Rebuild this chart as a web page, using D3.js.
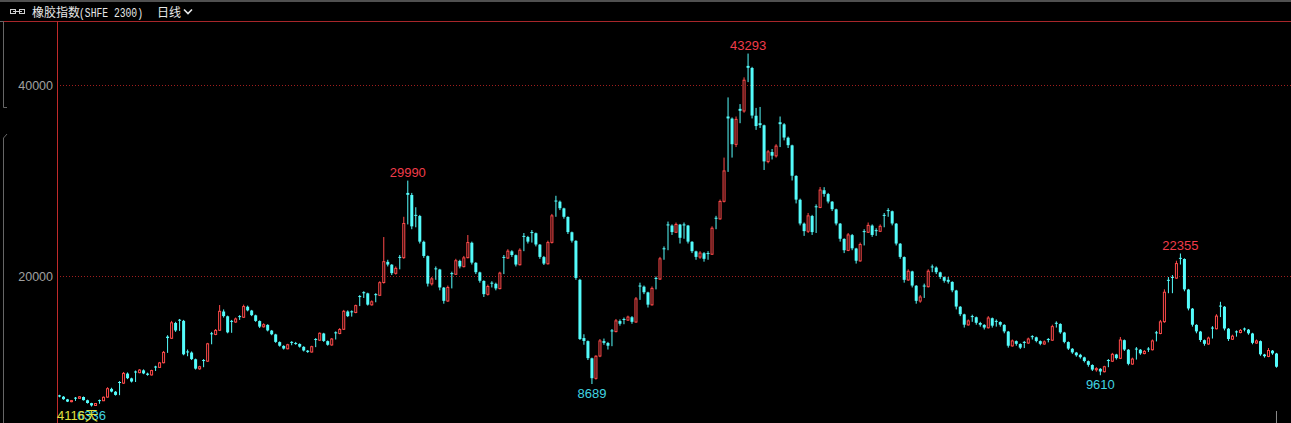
<!DOCTYPE html>
<html>
<head>
<meta charset="utf-8">
<script src="https://cdn.jsdelivr.net/npm/d3@7"></script>
<style>
  html, body { margin: 0; padding: 0; background: #000; }
  svg { display: block; }
</style>
</head>
<body>
<svg id="chart" width="1291" height="423"></svg>
<script>
// ---------- data ----------
const title = "橡胶指数";
const contract = "(SHFE 2300)";
const period = "日线";
const barCountLabel = "4116天";
const yTicks = [20000, 40000];

const openV = [
  7500, 7360, 7080, 6840, 7260, 7190, 7330, 6990, 6690, 6440,
  7000, 6940, 7320, 8180, 7880, 8900, 8780, 9780, 9280, 10000,
  9880, 10120, 9780, 9640, 10520, 10430, 10920, 13650, 13480, 15080,
  15420, 15300, 12100, 11980, 11280, 10280, 11200, 11080, 14000, 13880,
  14320, 16280, 15780, 15300, 15180, 15800, 15680, 16780, 16380, 15880,
  15280, 14680, 14880, 14280, 13880, 13080, 12680, 12380, 13100, 12980,
  12880, 12580, 12180, 12040, 13400, 13280, 13980, 13180, 12780, 14100,
  13980, 14420, 16280, 16300, 16180, 17900, 18300, 18180, 16980, 18100,
  17980, 19320, 21480, 21180, 20280, 22000, 21920, 28700, 28480, 26400,
  26280, 23580, 22080, 19180, 20800, 20680, 18780, 17380, 20300, 20180,
  21580, 20980, 21920, 23480, 21380, 20380, 19480, 18080, 19300, 19180,
  18680, 22000, 21880, 22580, 22180, 21180, 24200, 24080, 24600, 24480,
  23280, 21980, 21280, 23520, 27900, 27780, 27080, 26180, 24580, 23680,
  19600, 13500, 13180, 11380, 9280, 11620, 13180, 12980, 14300, 14180,
  15280, 15500, 15380, 15680, 15180, 19000, 18880, 18280, 16980, 19800,
  19680, 22900, 25400, 25280, 24580, 25380, 25400, 25280, 23580, 22580,
  21980, 22380, 22400, 22280, 26100, 25980, 27820, 36700, 36480, 33780,
  37500, 37280, 42000, 41780, 36780, 36000, 35780, 31980, 32980, 32580,
  36100, 35880, 34480, 33680, 30480, 27980, 25480, 24680, 26280, 27300,
  27180, 28980, 28580, 27780, 26980, 25480, 23880, 22680, 24280, 22880,
  21580, 24700, 24580, 25280, 24800, 24680, 26400, 26900, 26780, 25480,
  23380, 21980, 19580, 20480, 18980, 17380, 19000, 18880, 21000, 20880,
  20380, 19880, 19600, 19380, 18480, 16780, 15980, 14880, 15800, 15680,
  15080, 14880, 14580, 15580, 15300, 15180, 14880, 14180, 12680, 13180,
  12880, 13100, 12980, 13700, 13580, 13180, 12880, 13400, 13280, 15100,
  14980, 14080, 13080, 12380, 11980, 11750, 11480, 11080, 10680, 10180,
  10280, 9980, 11200, 11080, 11780, 11380, 13280, 12280, 10780, 12400,
  12280, 11880, 12400, 12280, 14100, 13980, 15220, 19600, 19900, 19780,
  21900, 21780, 18580, 16580, 14880, 14180, 13280, 12880, 14600, 14480,
  16900, 16780, 14480, 13380, 14200, 14080, 14500, 14380, 13980, 12980,
  13180, 11780, 11580, 12180, 11880
];
const highV = [
  7560, 7420, 7130, 7020, 7330, 7420, 7380, 7050, 6720, 6700,
  7060, 7380, 8350, 8300, 7950, 9000, 9950, 9900, 9350, 10100,
  10250, 10220, 9880, 10180, 10600, 11000, 12150, 13800, 15300, 15200,
  15500, 15400, 12300, 12100, 11350, 10600, 11300, 13000, 14150, 14450,
  16960, 16500, 15850, 15400, 15650, 15900, 17000, 16900, 16450, 15950,
  15350, 15050, 14950, 14350, 13950, 13150, 12750, 12900, 13180, 13100,
  12950, 12650, 12250, 12700, 13500, 14100, 14050, 13250, 13500, 14200,
  14550, 16450, 16400, 16400, 17000, 18000, 18400, 18250, 17450, 18200,
  19450, 24080, 21700, 21250, 21000, 22200, 26200, 29990, 28700, 27200,
  26400, 23700, 22150, 19900, 21000, 20750, 18850, 19000, 20450, 21800,
  21700, 22100, 24290, 23600, 21450, 20450, 19550, 19100, 19450, 19300,
  20450, 22200, 22800, 22700, 22250, 22900, 24500, 24200, 24810, 24550,
  23350, 22100, 23700, 26500, 28400, 27900, 27150, 26250, 24650, 23750,
  19700, 13900, 13250, 11450, 11700, 13400, 13450, 13100, 14450, 15500,
  15450, 15650, 15850, 15800, 17800, 19300, 19000, 18350, 18900, 19950,
  22000, 23100, 25700, 25400, 25600, 25450, 25600, 25350, 23650, 22650,
  22600, 22500, 22600, 25200, 26300, 28000, 32400, 38700, 36600, 36700,
  38000, 40800, 43293, 41900, 37600, 37700, 35850, 33200, 33300, 33800,
  36700, 36000, 34600, 33750, 30550, 28100, 25600, 26600, 26400, 27500,
  29320, 29300, 28700, 27850, 27050, 25550, 23950, 24500, 24400, 22950,
  23500, 24900, 25600, 25400, 25000, 25400, 26600, 27100, 26850, 25550,
  23450, 22050, 20700, 20550, 19050, 18000, 19200, 20700, 21200, 21000,
  20450, 19950, 19900, 19450, 18550, 16850, 16050, 15450, 15950, 15750,
  15200, 14950, 15800, 15650, 15450, 15250, 14950, 14250, 13350, 13250,
  12950, 13200, 13550, 13800, 13650, 13250, 13250, 13500, 14900, 15250,
  15050, 14150, 13150, 12450, 12050, 11850, 11550, 11150, 10750, 10450,
  10350, 10600, 11300, 11950, 11850, 13610, 13350, 12350, 11450, 12560,
  12350, 12250, 12550, 13350, 14250, 15400, 18600, 19890, 20100, 21600,
  22355, 21850, 18650, 16650, 14950, 14250, 13350, 13650, 14750, 16000,
  17300, 16850, 14550, 13850, 14300, 14450, 14600, 14450, 14050, 13350,
  13250, 11850, 12460, 12250, 11950
];
const lowV = [
  7300, 7040, 6800, 6780, 6920, 7150, 6960, 6640, 6336, 6400,
  6620, 6900, 7260, 7820, 7480, 7520, 8700, 9200, 8850, 8900,
  9820, 9720, 9560, 9580, 10050, 10380, 10850, 11950, 13400, 14150,
  14250, 11700, 11600, 11200, 10200, 10180, 10450, 11000, 12850, 13800,
  14250, 15650, 14000, 14050, 15100, 15400, 15600, 16300, 15800, 15200,
  14550, 14600, 14200, 13800, 13000, 12600, 12300, 12320, 12750, 12800,
  12500, 12100, 11950, 11980, 12550, 13200, 13100, 12700, 12700, 13350,
  13900, 14350, 15700, 15750, 16100, 16850, 17700, 16900, 16900, 17250,
  17900, 19200, 21000, 20100, 20150, 20700, 21800, 25400, 24900, 25100,
  23400, 21900, 18900, 19000, 19600, 18500, 17100, 17300, 18700, 20100,
  20800, 20900, 21850, 21200, 20200, 19300, 17800, 17950, 18800, 18500,
  18600, 20200, 21800, 22000, 21000, 21100, 22600, 23400, 23500, 23100,
  21800, 21150, 21200, 23400, 26200, 26900, 26000, 24400, 23500, 19600,
  13300, 12800, 11200, 8689, 9150, 11500, 12800, 12300, 12650, 14100,
  14800, 14950, 15300, 15000, 15100, 17500, 18100, 16700, 16900, 18600,
  19600, 21700, 22700, 24300, 24500, 23400, 23900, 23400, 22400, 21700,
  21800, 21500, 21700, 22200, 24900, 25900, 27700, 30900, 32400, 33500,
  36000, 37100, 40300, 36500, 35300, 35500, 31100, 31800, 32200, 32400,
  33500, 34200, 33400, 30000, 27600, 25300, 24200, 24500, 24300, 24500,
  27100, 28300, 27600, 26800, 25300, 23600, 22400, 22600, 22700, 21300,
  21500, 23200, 24500, 24100, 24200, 24600, 25100, 26200, 25300, 23200,
  21800, 19300, 19500, 18800, 17100, 17200, 17700, 18800, 20400, 20200,
  19700, 19300, 19200, 18300, 16500, 15800, 14600, 14800, 15200, 14900,
  14700, 14400, 14500, 14600, 14700, 14700, 14000, 12500, 12600, 12700,
  12350, 12450, 12900, 13350, 13050, 12750, 12800, 13050, 13200, 14600,
  13950, 12950, 12250, 11850, 11550, 11350, 10950, 10500, 10050, 9980,
  9610, 9900, 10450, 11000, 11250, 11300, 12150, 10650, 10700, 11250,
  11750, 11800, 12050, 12200, 13150, 13900, 15100, 18200, 18200, 19700,
  21200, 18400, 16400, 14700, 14000, 13100, 12700, 12800, 13450, 14400,
  15700, 14300, 13200, 13300, 13650, 14000, 14200, 13850, 12850, 12900,
  11650, 11450, 11500, 11750, 10400
];
const closeV = [
  7380, 7100, 6850, 6950, 7200, 7350, 7000, 6700, 6450, 6650,
  6950, 7300, 8200, 7900, 7550, 8800, 9800, 9300, 8950, 9900,
  10150, 9800, 9650, 10100, 10450, 10900, 12000, 13500, 15100, 14300,
  15350, 11800, 12000, 11300, 10300, 10500, 11100, 12900, 13900, 14300,
  16300, 15800, 14100, 15200, 15500, 15700, 16800, 16400, 15900, 15300,
  14700, 14900, 14300, 13900, 13100, 12700, 12400, 12800, 13000, 12900,
  12600, 12200, 12050, 12600, 13300, 14000, 13200, 12800, 13400, 14000,
  14400, 16300, 15800, 16200, 16900, 17800, 18200, 17000, 17300, 18000,
  19300, 21500, 21200, 20300, 20800, 21900, 25500, 28500, 25200, 26300,
  23600, 22100, 19200, 19700, 20700, 18800, 17400, 18800, 20200, 21600,
  21000, 21900, 23500, 21400, 20400, 19500, 18100, 18900, 19200, 18700,
  20300, 21900, 22600, 22200, 21200, 22700, 24100, 23600, 24500, 23300,
  22000, 21300, 23500, 26300, 27800, 27100, 26200, 24600, 23700, 19800,
  13400, 13200, 11400, 9300, 11600, 13200, 13000, 12700, 14200, 15300,
  15000, 15400, 15700, 15200, 17600, 18900, 18300, 17000, 18700, 19700,
  21800, 22800, 25300, 24600, 25400, 24000, 25300, 23600, 22600, 22000,
  22400, 21800, 22300, 25000, 26000, 27800, 31000, 36500, 33800, 36400,
  37300, 40500, 41800, 36800, 35700, 35800, 32000, 33000, 32600, 33600,
  35900, 34500, 33700, 30500, 28000, 25500, 24700, 26300, 24600, 27200,
  29000, 28600, 27800, 27000, 25500, 23900, 22700, 24300, 22900, 21600,
  23300, 24600, 25300, 24300, 24700, 25200, 26300, 26800, 25500, 23400,
  22000, 19600, 20500, 19000, 17400, 17800, 18900, 20500, 20900, 20400,
  19900, 19500, 19400, 18500, 16800, 16000, 14900, 15300, 15700, 15100,
  14900, 14600, 15600, 14800, 15200, 14900, 14200, 12700, 13200, 12900,
  12500, 13000, 13400, 13600, 13200, 12900, 13100, 13300, 14700, 15000,
  14100, 13100, 12400, 12000, 11700, 11500, 11100, 10700, 10200, 10300,
  10000, 10500, 11100, 11800, 11400, 13300, 12300, 10800, 11300, 12300,
  11900, 12100, 12300, 13200, 14000, 15200, 18300, 19500, 19800, 21300,
  21800, 18600, 16600, 14900, 14200, 13300, 12900, 13500, 14500, 15800,
  16800, 14500, 13400, 13700, 14100, 14300, 14400, 14000, 13000, 13200,
  11800, 11600, 12200, 11900, 10500
];
// bars whose high / low the software labels
const markHighIdx = [87, 172, 280];
const markLowIdx = [8, 133, 260];

// ---------- drawing ----------
const W = 1291, H = 423;
const plotLeft = 57, plotTop = 21, plotBottom = 423;
const UP = "#ff4a4a", DOWN = "#54fcfc";

const svg = d3.select("#chart");
const bars = closeV.map((c, i) => ({ i, o: openV[i], h: highV[i], l: lowV[i], c }));

const x = d3.scaleBand()
  .domain(bars.map(d => d.i))
  .range([58, 58 + 4 * bars.length])
  .paddingInner(0.25).paddingOuter(0).align(0);

const y = d3.scaleLinear().domain([20000, 40000]).range([276, 85]);

// top grey border
svg.append("rect").attr("x", 0).attr("y", 0).attr("width", W).attr("height", 2).attr("fill", "#505050");
// header red line
svg.append("line").attr("x1", 0).attr("x2", W).attr("y1", 21.5).attr("y2", 21.5)
  .attr("stroke", "#a8262a").attr("stroke-width", 1);
// left grey brackets
svg.append("path").attr("d", "M0,21.5H3.5V107.5H7").attr("fill", "none").attr("stroke", "#666");
svg.append("path").attr("d", "M7,134L3.5,138V423").attr("fill", "none").attr("stroke", "#666");

// y axis with dotted gridlines
const yAxis = d3.axisLeft(y).tickValues(yTicks).tickSize(-(W - plotLeft)).tickPadding(4)
  .tickFormat(d3.format("d"));
const gy = svg.append("g").attr("transform", `translate(${plotLeft},0)`).call(yAxis);
gy.select(".domain").remove();
gy.selectAll(".tick line").attr("stroke", "#a01e1e").attr("stroke-dasharray", "1,2");
gy.selectAll(".tick text").attr("fill", "#a0a0a0")
  .attr("font-family", "Liberation Sans, Arial, sans-serif").attr("font-size", 12.5);
gy.attr("font-family", null).attr("font-size", null);

// left red vertical line
svg.append("line").attr("x1", plotLeft + 0.5).attr("x2", plotLeft + 0.5)
  .attr("y1", plotTop).attr("y2", plotBottom).attr("stroke", "#c02a2a");

// candles
const bw = x.bandwidth();
const g = svg.append("g");
const cand = g.selectAll("g.c").data(bars).join("g").attr("class", "c");
cand.append("line")
  .attr("x1", d => x(d.i) + bw / 2).attr("x2", d => x(d.i) + bw / 2)
  .attr("y1", d => y(d.h)).attr("y2", d => y(d.l))
  .attr("stroke", d => d.c >= d.o ? UP : DOWN).attr("stroke-width", 1);
cand.filter(d => d.c < d.o).append("rect")
  .attr("x", d => x(d.i)).attr("width", bw)
  .attr("y", d => y(d.o)).attr("height", d => Math.max(1, y(d.c) - y(d.o)))
  .attr("fill", DOWN);
cand.filter(d => d.c >= d.o).append("rect")
  .attr("x", d => x(d.i) + 0.5).attr("width", bw - 1)
  .attr("y", d => y(d.c)).attr("height", d => Math.max(0.5, y(d.o) - y(d.c)))
  .attr("fill", "#000").attr("stroke", UP).attr("stroke-width", 1);

// extreme labels
const lblFont = "Liberation Sans, Arial, sans-serif";
svg.selectAll("text.hi").data(markHighIdx).join("text").attr("class", "hi")
  .attr("x", i => x(i) + bw / 2).attr("y", i => y(highV[i]) - 4)
  .attr("text-anchor", "middle").attr("font-family", lblFont).attr("font-size", 13)
  .attr("fill", "#f03c4a").text(i => highV[i]);
svg.selectAll("text.lo").data(markLowIdx).join("text").attr("class", "lo")
  .attr("x", i => x(i) + bw / 2).attr("y", i => y(lowV[i]) + 14)
  .attr("text-anchor", "middle").attr("font-family", lblFont).attr("font-size", 13)
  .attr("fill", "#40d4e0").text(i => lowV[i]);

// bar count label (yellow)
svg.append("text").attr("x", 57).attr("y", 420).attr("font-family", "Liberation Sans, 'Noto Sans CJK SC', sans-serif")
  .attr("font-size", 13).attr("fill", "#e0e040").text(barCountLabel);

// last-bar marker
const lastX = x(bars.length - 1) + bw / 2;
svg.append("line").attr("x1", lastX).attr("x2", lastX).attr("y1", 411).attr("y2", 423)
  .attr("stroke", "#8a8a8a");

// title bar
const hdr = svg.append("g").attr("fill", "none").attr("stroke", "#d0d0d0").attr("stroke-width", 1);
hdr.append("rect").attr("x", 10.5).attr("y", 9.5).attr("width", 5).attr("height", 4);
hdr.append("rect").attr("x", 19.5).attr("y", 9.5).attr("width", 5).attr("height", 4);
hdr.append("line").attr("x1", 13).attr("x2", 22).attr("y1", 11.5).attr("y2", 11.5);
svg.append("text").attr("x", 32).attr("y", 17).attr("font-family", "Noto Sans CJK SC")
  .attr("font-size", 12).attr("fill", "#e8e8e8").text(title);
svg.append("text").attr("x", 79).attr("y", 17).attr("font-family", "Liberation Mono, monospace")
  .attr("font-size", 12).attr("fill", "#e8e8e8")
  .attr("textLength", 64).attr("lengthAdjust", "spacingAndGlyphs").text(contract);
svg.append("text").attr("x", 157).attr("y", 17).attr("font-family", "Noto Sans CJK SC")
  .attr("font-size", 12).attr("fill", "#e8e8e8").text(period);
svg.append("path").attr("d", "M184,9.5L188,13.5L192,9.5").attr("fill", "none")
  .attr("stroke", "#e8e8e8").attr("stroke-width", 1.6);
</script>
</body>
</html>
